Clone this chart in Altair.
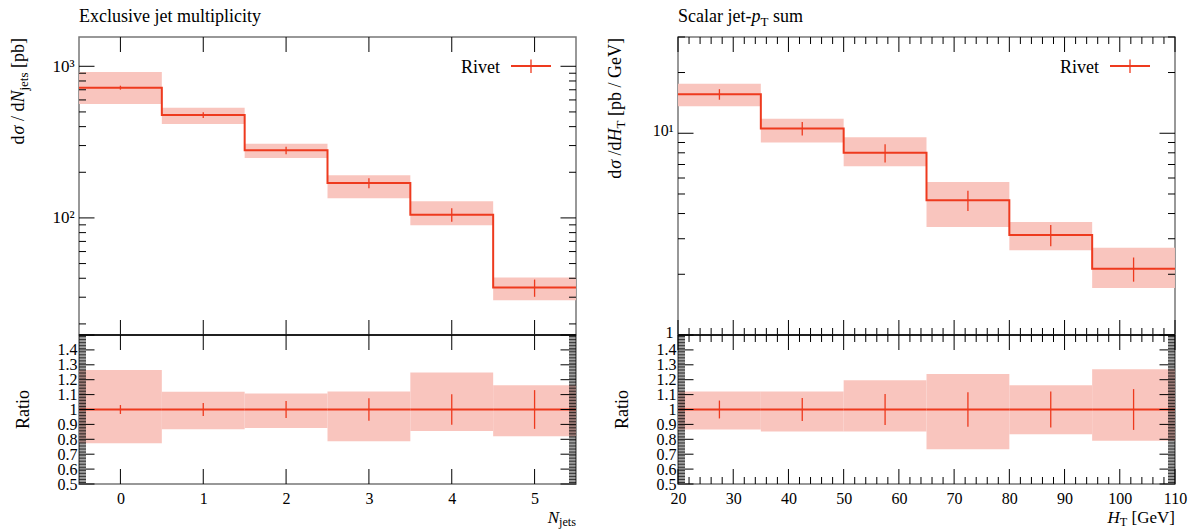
import altair as alt
import numpy as np
import pandas as pd

SERIF = "Liberation Serif"
RED = "#ee3a1e"
BAND = "#f9c2bb"
FRAME = "#777777"
W = 497
H_MAIN = 298
H_RATIO = 149
GAP = 102

# ---------------- data: exclusive jet multiplicity ----------------
nj_edges = [-0.5, 0.5, 1.5, 2.5, 3.5, 4.5, 5.5]
nj_centers = [0, 1, 2, 3, 4, 5]
nj_value = [723, 477, 279, 170, 105, 34.7]
nj_band_lo = [563, 417, 248, 135, 89.6, 28.6]
nj_band_hi = [917, 533, 309, 191, 129, 40.4]
nj_rel_err = [0.03, 0.044, 0.057, 0.076, 0.103, 0.13]
nj_ratio_lo = [0.773, 0.867, 0.876, 0.787, 0.856, 0.82]
nj_ratio_hi = [1.265, 1.119, 1.108, 1.121, 1.249, 1.162]

# ---------------- data: scalar jet-pT sum ----------------
ht_edges = [20, 35, 50, 65, 80, 95, 110]
ht_centers = [27.5, 42.5, 57.5, 72.5, 87.5, 102.5]
ht_value = [15.6, 10.55, 8.0, 4.65, 3.13, 2.13]
ht_band_lo = [13.6, 9.0, 6.87, 3.43, 2.63, 1.71]
ht_band_hi = [17.6, 11.8, 9.55, 5.73, 3.63, 2.71]
ht_rel_err = [0.06, 0.077, 0.104, 0.115, 0.12, 0.137]
ht_ratio_lo = [0.865, 0.852, 0.852, 0.733, 0.834, 0.791]
ht_ratio_hi = [1.121, 1.121, 1.196, 1.238, 1.162, 1.27]

ratio_reference = [1, 1, 1, 1, 1, 1]

# ---------------- ticks and labels ----------------
nj_x_ticks = [0, 1, 2, 3, 4, 5]
nj_y_major = [100, 1000]
nj_y_minor = [20, 30, 40, 50, 60, 70, 80, 90, 200, 300, 400, 500, 600, 700, 800, 900]
nj_y_domain = [16.9, 1560]
nj_x_domain = [-0.5, 5.5]

ht_x_major = [20, 30, 40, 50, 60, 70, 80, 90, 100, 110]
ht_x_minor = [v for v in range(22, 110, 2) if v % 10]
ht_y_major = [1, 10]
ht_y_minor = [2, 3, 4, 5, 6, 7, 8, 9, 20, 30]
ht_y_domain = [1, 30]
ht_x_domain = [20, 110]

ratio_domain = [0.5, 1.5]
ratio_labels = [0.5, 0.6, 0.7, 0.8, 0.9, 1.0, 1.1, 1.2, 1.3, 1.4]
ratio_major = [round(0.5 + 0.1 * i, 2) for i in range(11)]
ratio_minor = [round(0.5 + 0.01 * i, 2) for i in range(101) if i % 10]

legend_label = ["Rivet"]

# text pieces: (text, style)  n = normal, i = italic, s = subscript
left_title = [("Exclusive jet multiplicity", "n")]
right_title = [("Scalar jet-", "n"), ("p", "i"), ("T", "s"), (" sum", "n")]
left_ytitle = [("d", "n"), ("σ", "i"), (" / d", "n"), ("N", "i"), ("jets", "s"), (" [pb]", "n")]
right_ytitle = [("d", "n"), ("σ", "i"), (" /d", "n"), ("H", "i"), ("T", "s"), (" [pb / GeV]", "n")]
left_xtitle = [("N", "i"), ("jets", "s")]
right_xtitle = [("H", "i"), ("T", "s"), (" [GeV]", "n")]
ratio_title = "Ratio"

TITLE_SIZE = 18
AXIS_TITLE_SIZE = 18
XTITLE_SIZE = 17

# ---------------- helpers ----------------
REG = {' ': .25, 'd': .5, 'σ': .55, '/': .278, 'N': .722, '[': .333, ']': .333, 'p': .5, 'b': .5,
       'G': .722, 'e': .444, 'V': .722, 'j': .278, 't': .278, 's': .389, 'T': .611, 'S': .556,
       'c': .444, 'a': .444, 'l': .278, 'r': .333, '-': .333, 'u': .5, 'm': .778, 'H': .722,
       'E': .611, 'x': .5, 'i': .278, 'v': .5, 'y': .5, 'o': .5, 'R': .667}
ITA = {'N': .667, 'H': .722, 'σ': .55, 'p': .5}
SUB_SHIFT = 0.2


def piece_size(style, size):
    return size * 0.72 if style == "s" else size


def piece_width(text, style, size):
    table = ITA if style == "i" else REG
    return sum(table.get(ch, 0.5) for ch in text) * piece_size(style, size)


def text_mark(s, x, y, size, italic=False, align="left", angle=None, baseline="alphabetic"):
    kw = dict(font=SERIF, fontSize=size, align=align, baseline=baseline, color="black")
    if italic:
        kw["fontStyle"] = "italic"
    if angle is not None:
        kw["angle"] = angle
    return alt.Chart(pd.DataFrame({"t": [s]})).mark_text(**kw).encode(
        text="t:N", x=alt.value(x), y=alt.value(y))


def htext(pieces, x, y, size, anchor="left"):
    out = []
    if anchor == "left":
        pos = x
        for t, st in pieces:
            dy = size * SUB_SHIFT if st == "s" else 0
            lead = len(t) - len(t.lstrip(" "))
            pos += piece_width(" " * lead, st, size)
            out.append(text_mark(t.strip(" "), pos, y + dy, piece_size(st, size),
                                 italic=(st == "i"), align="left"))
            pos += piece_width(t.lstrip(" "), st, size)
    else:
        pos = x
        for t, st in reversed(pieces):
            dy = size * SUB_SHIFT if st == "s" else 0
            out.append(text_mark(t.strip(" "), pos, y + dy, piece_size(st, size),
                                 italic=(st == "i"), align="right"))
            pos -= piece_width(t, st, size)
    return out


def vtext_top(pieces, x, ytop, size):
    # rotated text reading upwards, its end at ytop
    out = []
    pos = ytop
    for t, st in reversed(pieces):
        dx = size * SUB_SHIFT if st == "s" else 0
        out.append(text_mark(t.strip(" "), x + dx, pos, piece_size(st, size), italic=(st == "i"),
                             align="right", angle=270))
        pos += piece_width(t, st, size)
    return out


def xticks(vals, xs, xaxis, length, height, width=1):
    df = pd.DataFrame({"v": vals})
    base = alt.Chart(df).mark_rule(color="black", strokeWidth=width)
    return [
        base.encode(x=alt.X("v:Q", scale=xs, axis=xaxis), y=alt.value(0), y2=alt.value(length)),
        base.encode(x=alt.X("v:Q", scale=xs, axis=xaxis), y=alt.value(height - length), y2=alt.value(height)),
    ]


def yticks(vals, ys, yaxis, length, width=1):
    df = pd.DataFrame({"v": vals})
    base = alt.Chart(df).mark_rule(color="black", strokeWidth=width)
    return [
        base.encode(y=alt.Y("v:Q", scale=ys, axis=yaxis), x=alt.value(0), x2=alt.value(length)),
        base.encode(y=alt.Y("v:Q", scale=ys, axis=yaxis), x=alt.value(W - length), x2=alt.value(W)),
    ]


def legend_marks():
    df = pd.DataFrame({"t": legend_label})
    txt = alt.Chart(df).mark_text(font=SERIF, fontSize=18, align="right", baseline="alphabetic",
                                  color="black").encode(text="t:N", x=alt.value(W - 76), y=alt.value(36))
    line = alt.Chart(df).mark_rule(color=RED, strokeWidth=2).encode(
        x=alt.value(W - 65), x2=alt.value(W - 25), y=alt.value(29))
    bar = alt.Chart(df).mark_rule(color=RED, strokeWidth=1.3).encode(
        x=alt.value(W - 45), y=alt.value(22.5), y2=alt.value(36))
    return [txt, line, bar]


def main_panel(edges, centers, value, band_lo, band_hi, rel_err, xs, ys, yaxis,
               x_major, x_minor, y_major, y_minor, extra):
    xaxis = None
    bins = pd.DataFrame({"x0": edges[:-1], "x1": edges[1:], "lo": band_lo, "hi": band_hi})
    band = alt.Chart(bins).mark_rect(color=BAND, opacity=0.95).encode(
        x=alt.X("x0:Q", scale=xs, axis=xaxis), x2="x1",
        y=alt.Y("lo:Q", scale=ys, axis=yaxis), y2="hi")
    step = pd.DataFrame({"x": edges, "y": list(value) + [value[-1]]})
    line = alt.Chart(step).mark_line(interpolate="step-after", color=RED, strokeWidth=2).encode(
        x=alt.X("x:Q", scale=xs, axis=xaxis), y=alt.Y("y:Q", scale=ys, axis=yaxis))
    err = pd.DataFrame({"c": centers,
                        "lo": [v * (1 - e) for v, e in zip(value, rel_err)],
                        "hi": [v * (1 + e) for v, e in zip(value, rel_err)]})
    bars = alt.Chart(err).mark_rule(color=RED, strokeWidth=1.3).encode(
        x=alt.X("c:Q", scale=xs, axis=xaxis), y=alt.Y("lo:Q", scale=ys, axis=yaxis), y2="hi")
    layers = [band, line, bars]
    layers += xticks(x_major, xs, xaxis, 15, H_MAIN)
    if x_minor:
        layers += xticks(x_minor, xs, xaxis, 7, H_MAIN)
    layers += yticks(y_major, ys, yaxis, 15.5)
    layers += yticks(y_minor, ys, yaxis, 7)
    layers += legend_marks()
    layers += extra
    return alt.layer(*layers).properties(width=W, height=H_MAIN)


def ratio_panel(edges, centers, r_lo, r_hi, rel_err, xs, xaxis, x_major, x_minor, extra):
    ys = alt.Scale(type="linear", domain=ratio_domain, nice=False, zero=False)
    yaxis = alt.Axis(values=ratio_labels, format="~g", ticks=False, domain=False, grid=False,
                     title=None, labelOverlap=False, labelPadding=2, labelFontSize=16)
    bins = pd.DataFrame({"x0": edges[:-1], "x1": edges[1:], "lo": r_lo, "hi": r_hi,
                         "one": ratio_reference})
    band = alt.Chart(bins).mark_rect(color=BAND, opacity=0.95).encode(
        x=alt.X("x0:Q", scale=xs, axis=xaxis), x2="x1",
        y=alt.Y("lo:Q", scale=ys, axis=yaxis), y2="hi")
    ref = alt.Chart(bins).mark_rule(color=RED, strokeWidth=2).encode(
        x=alt.X("x0:Q", scale=xs, axis=xaxis), x2="x1", y=alt.Y("one:Q", scale=ys, axis=yaxis))
    err = pd.DataFrame({"c": centers, "lo": [1 - e for e in rel_err], "hi": [1 + e for e in rel_err]})
    bars = alt.Chart(err).mark_rule(color=RED, strokeWidth=1.3).encode(
        x=alt.X("c:Q", scale=xs, axis=xaxis), y=alt.Y("lo:Q", scale=ys, axis=yaxis), y2="hi")
    divider = alt.Chart(pd.DataFrame({"t": legend_label})).mark_rule(color="black", strokeWidth=1.5).encode(
        x=alt.value(0), x2=alt.value(W), y=alt.value(0))
    layers = [band, ref, bars]
    layers += xticks(x_major, xs, xaxis, 15, H_RATIO)
    if x_minor:
        layers += xticks(x_minor, xs, xaxis, 7, H_RATIO)
    layers += yticks(ratio_major, ys, yaxis, 15.5)
    layers += yticks(ratio_minor, ys, yaxis, 7, width=0.8)
    layers += [divider]
    layers += extra
    return alt.layer(*layers).properties(width=W, height=H_RATIO)


# ---------------- scales ----------------
nj_xs = alt.Scale(domain=nj_x_domain, nice=False, zero=False)
ht_xs = alt.Scale(domain=ht_x_domain, nice=False, zero=False)
nj_ys = alt.Scale(type="log", domain=nj_y_domain, nice=False)
ht_ys = alt.Scale(type="log", domain=ht_y_domain, nice=False)

nj_yaxis = alt.Axis(values=nj_y_major, labelExpr="datum.value >= 1000 ? '10³' : '10²'",
                    ticks=False, domain=False, grid=False, title=None, labelPadding=5,
                    labelFontSize=17, labelOverlap=False)
ht_yaxis = alt.Axis(values=ht_y_major, labelExpr="datum.value >= 10 ? '10¹' : '1'",
                    ticks=False, domain=False, grid=False, title=None, labelPadding=5,
                    labelFontSize=16, labelOverlap=False, labelOffset=-3)
nj_xaxis = alt.Axis(values=nj_x_ticks, format="d", ticks=False, domain=False, grid=False,
                    title=None, labelPadding=6, labelFlush=False, labelFontSize=16)
ht_xaxis = alt.Axis(values=ht_x_major, format="d", ticks=False, domain=False, grid=False,
                    title=None, labelPadding=6, labelFlush=False, labelFontSize=16,
                    labelOverlap=False)

# anchor that fixes the page origin of the first panel
anchor = alt.Chart(pd.DataFrame({"t": legend_label})).mark_point(
    size=0, opacity=0, strokeWidth=0).encode(x=alt.value(-78), y=alt.value(-36))

XT_BASE = H_RATIO + 39
L1_extra = [anchor] + htext(left_title, 0, -15, TITLE_SIZE) + vtext_top(left_ytitle, -55, 1, AXIS_TITLE_SIZE)
R1_extra = htext(right_title, 0, -15, TITLE_SIZE) + vtext_top(right_ytitle, -57, 1, AXIS_TITLE_SIZE)
L2_extra = htext(left_xtitle, W, XT_BASE, XTITLE_SIZE, anchor="right") + [
    text_mark(ratio_title, -50, H_RATIO / 2, AXIS_TITLE_SIZE, align="center", angle=270)]
R2_extra = htext(right_xtitle, W, XT_BASE, XTITLE_SIZE, anchor="right") + [
    text_mark(ratio_title, -50, H_RATIO / 2, AXIS_TITLE_SIZE, align="center", angle=270)]

L1 = main_panel(nj_edges, nj_centers, nj_value, nj_band_lo, nj_band_hi, nj_rel_err,
                nj_xs, nj_ys, nj_yaxis, nj_x_ticks, None, nj_y_major, nj_y_minor, L1_extra)
R1 = main_panel(ht_edges, ht_centers, ht_value, ht_band_lo, ht_band_hi, ht_rel_err,
                ht_xs, ht_ys, ht_yaxis, ht_x_major, ht_x_minor, ht_y_major, ht_y_minor, R1_extra)
L2 = ratio_panel(nj_edges, nj_centers, nj_ratio_lo, nj_ratio_hi, nj_rel_err, nj_xs, nj_xaxis,
                 nj_x_ticks, None, L2_extra)
R2 = ratio_panel(ht_edges, ht_centers, ht_ratio_lo, ht_ratio_hi, ht_rel_err, ht_xs, ht_xaxis,
                 ht_x_major, ht_x_minor, R2_extra)

chart = alt.concat(L1, R1, L2, R2, columns=2, spacing={"row": 0, "column": GAP},
                   bounds="flush").properties(padding=0).configure_view(
    stroke=FRAME, strokeWidth=1.5).configure_axis(
    labelFont=SERIF, labelColor="black")

chart.save("out.html", embed_options={"renderer": "svg", "actions": False})
